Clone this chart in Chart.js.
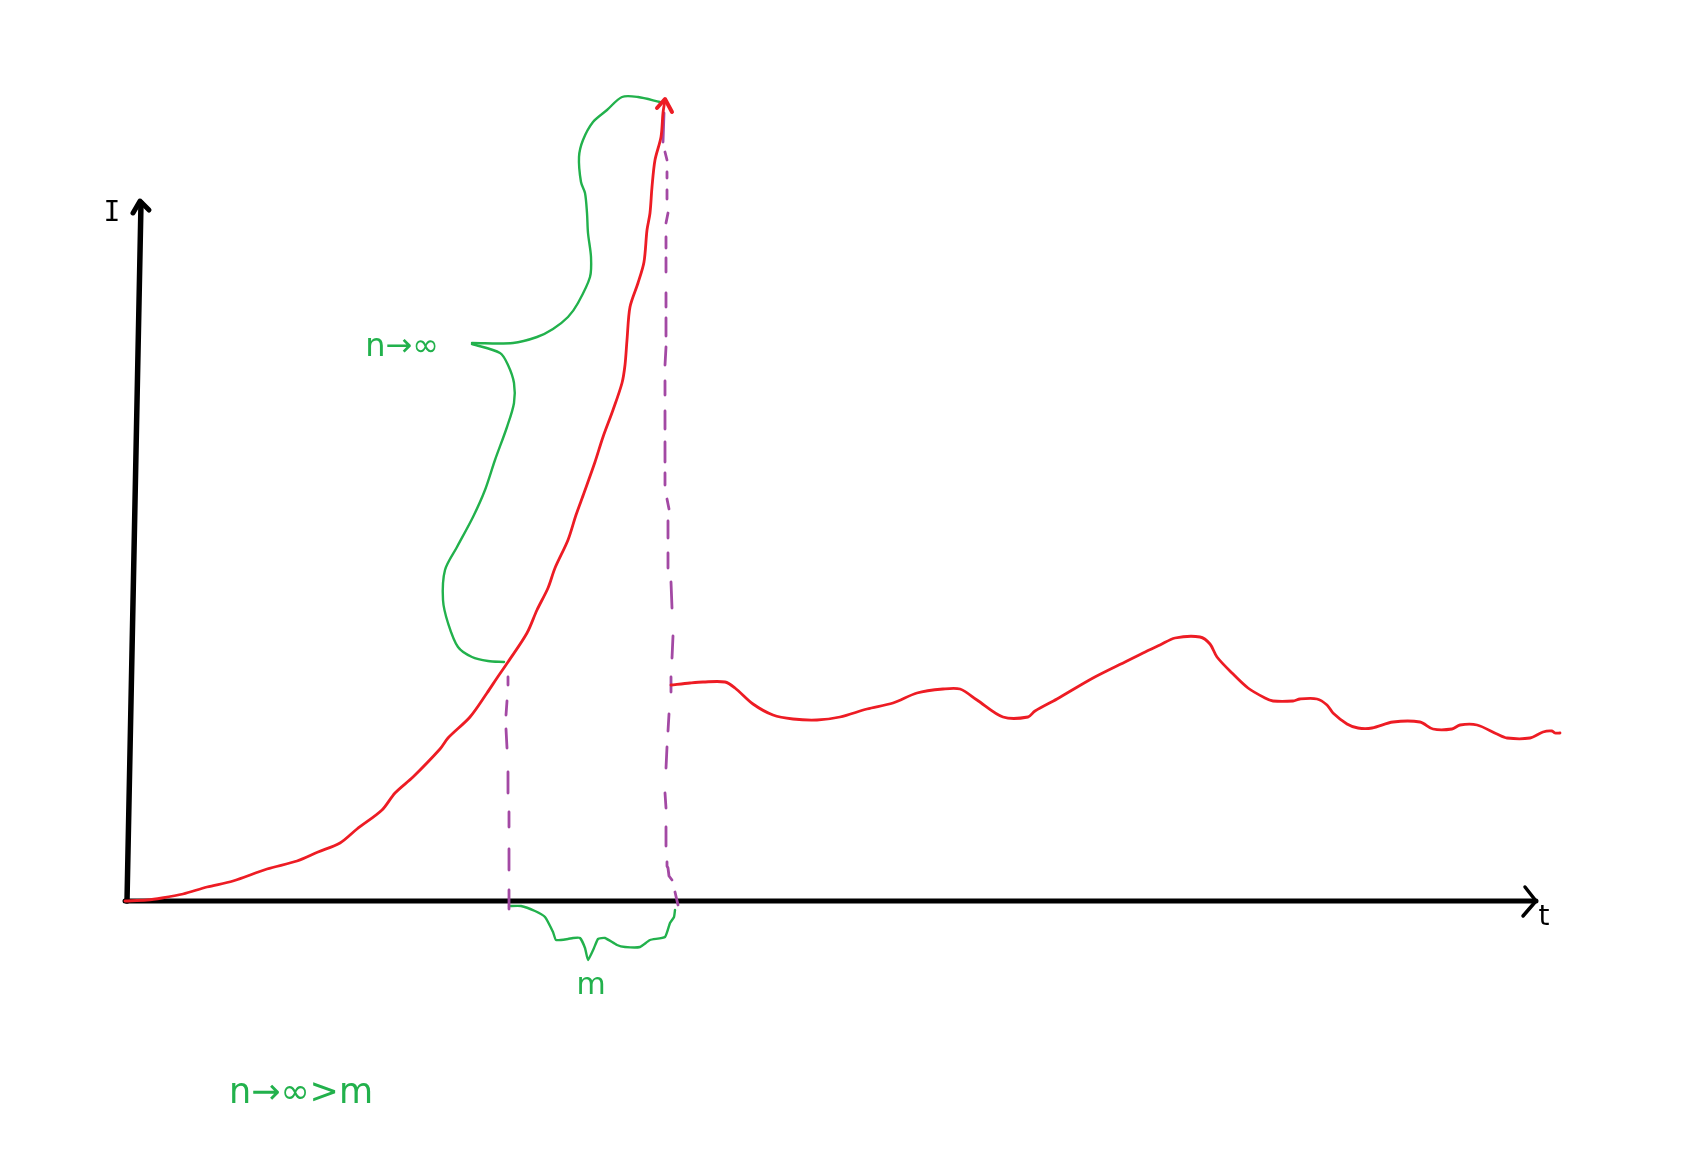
<!DOCTYPE html>
<html>
<head>
<meta charset="utf-8">
<title>I over t</title>
<script src="https://cdn.jsdelivr.net/npm/chart.js@4"></script>
<style>
  html, body { margin: 0; padding: 0; background: #fff; }
  canvas { display: block; }
</style>
</head>
<body>
<canvas id="chart" width="1703" height="1149"></canvas>
<script>
// all values are [t, I]
const riseCurve = [[-2,0],[20,1],[35,3],[56,7],[80,14],[106,20],[140,32],[170,40],[191,49],[213,58],[230,72],[255,91],[268,108],[286,124],[313,152],[321,163],[343,184],[360,208],[370,223],[381,239],[400,268],[410,291],[421,313],[428,333],[441,361],[449,386],[457,408],[468,439],[476,464],[486,491],[495,518],[498,536],[500,561],[503,594],[511,618],[517,639],[520,671],[523,688],[525,714],[528,741],[534,764],[536,788],[538,801]];
const riseArrow = [[530,793],[538,802],[545,789]];
const decayCurve = [[544,216],[563,218],[576,219],[598,219],[608,213],[626,197],[646,186],[666,182],[690,181],[713,184],[740,192],[766,198],[790,208],[816,212],[833,212],[850,201],[876,184],[901,184],[908,190],[930,202],[966,223],[1000,240],[1016,248],[1033,256],[1048,263],[1073,264],[1083,257],[1090,244],[1105,228],[1121,213],[1138,203],[1146,200],[1166,200],[1173,202],[1190,202],[1200,196],[1206,188],[1220,177],[1231,173],[1245,173],[1266,179],[1293,179],[1306,172],[1325,172],[1333,176],[1350,176],[1370,167],[1380,163],[1403,163],[1416,169],[1425,170],[1428,168],[1433,168]];

const leftDashes = [
  [[381,224],[381,216]], [[380,200],[379,186]], [[379,172],[380,153]], [[381,129],[381,108]],
  [[382,89],[382,74]], [[382,52],[382,31]], [[382,11],[382,-8]]
];
const rightDashes = [
  [[537,788],[536,759]], [[538,749],[540,741]], [[540,729],[540,723]], [[540,711],[540,702]],
  [[541,688],[539,678]], [[539,664],[539,653]], [[539,643],[539,629]], [[539,608],[539,594]],
  [[539,583],[539,565]], [[539,554],[538,536]], [[538,520],[538,506]], [[538,490],[538,472]],
  [[538,459],[538,439]], [[538,428],[538,416]], [[540,402],[542,392]], [[541,380],[541,363]],
  [[541,348],[541,333]], [[544,319],[545,293]], [[546,265],[545,243]], [[544,224],[544,209]],
  [[542,187],[541,170]], [[540,154],[539,133]], [[538,108],[539,93]], [[539,74],[539,55]],
  [[540,39],[540,35],[541,33],[542,25],[545,21]], [[548,9],[551,-4]]
];

const braceUpper = [[345,558],[386,558],[410,564],[426,572],[441,584],[451,598],[463,624],[464,644],[461,668],[460,688],[458,708],[454,719],[452,744],[456,761],[466,779],[480,791],[495,804],[511,804],[533,799]];
const braceLower = [[345,557],[373,548],[381,536],[387,518],[387,498],[380,474],[368,441],[358,411],[346,384],[330,354],[318,331],[316,301],[321,278],[331,254],[345,244],[361,240],[377,239]];
const braceBottom = [[382,-5],[394,-5],[408,-10],[418,-16],[426,-31],[429,-39],[441,-38],[446,-37],[453,-37],[458,-47],[461,-59],[467,-47],[471,-38],[478,-37],[490,-44],[498,-46],[513,-46],[523,-39],[538,-36],[543,-22],[547,-16],[548,-9]];

const axisT = [[-2,0],[1409,0]];
const axisTArrow = [[1398,14],[1409,0],[1396,-15]];
const axisI = [[0,0],[14,698]];
const axisIArrow = [[6,688],[13,700],[22,691]];

const RED = '#ed1c24';
const GREEN = '#22b14c';
const PURPLE = '#a349a4';
const BLACK = '#000000';

function toPoints(pairs) {
  return pairs.map((p) => ({ x: p[0], y: p[1] }));
}

// dashes are kept apart by an empty point, the line breaks there
function joinDashes(dashes) {
  const out = [];
  dashes.forEach((d) => {
    out.push(...toPoints(d));
    out.push({ x: null, y: null });
  });
  return out;
}

function line(data, color, width, tension) {
  return {
    data: data,
    showLine: true,
    borderColor: color,
    borderWidth: width,
    pointRadius: 0,
    fill: false,
    tension: tension || 0,
    borderCapStyle: 'round',
    borderJoinStyle: 'round',
  };
}

// the handwritten labels, placed in axis units
const handLabels = {
  id: 'handLabels',
  afterDraw(chart) {
    const ctx = chart.ctx;
    const sx = chart.scales.x;
    const sy = chart.scales.y;
    const put = (text, t, i, font, color) => {
      ctx.save();
      ctx.font = font;
      ctx.fillStyle = color;
      ctx.textAlign = 'center';
      ctx.textBaseline = 'middle';
      ctx.fillText(text, sx.getPixelForValue(t), sy.getPixelForValue(i));
      ctx.restore();
    };
    put('I', -15, 687, '28px "DejaVu Sans Mono"', BLACK);
    put('t', 1417, -17, '28px "DejaVu Sans"', BLACK);
    put('n→∞', 275, 553, '32px "DejaVu Sans"', GREEN);
    put('m', 464, -85, '30px "DejaVu Sans"', GREEN);
    put('n→∞>m', 174, -193, '35px "DejaVu Sans"', GREEN);
  },
};

new Chart(document.getElementById('chart'), {
  type: 'scatter',
  data: {
    datasets: [
      line(toPoints(riseArrow), RED, 4),
      line(toPoints(riseCurve), RED, 2.8, 0.3),
      line(toPoints(decayCurve), RED, 2.8, 0.3),
      line(joinDashes(leftDashes), PURPLE, 2.8),
      line(joinDashes(rightDashes), PURPLE, 2.8),
      line(toPoints(braceUpper), GREEN, 2.4, 0.3),
      line(toPoints(braceLower), GREEN, 2.4, 0.3),
      line(toPoints(braceBottom), GREEN, 2.4, 0.15),
      line(toPoints(axisT), BLACK, 5),
      line(toPoints(axisTArrow), BLACK, 3.5),
      line(toPoints(axisI), BLACK, 5.5),
      line(toPoints(axisIArrow), BLACK, 5),
    ],
  },
  options: {
    responsive: false,
    animation: false,
    layout: { padding: 0 },
    plugins: {
      legend: { display: false },
      tooltip: { enabled: false },
    },
    scales: {
      x: { type: 'linear', display: false, min: -127, max: 1576 },
      y: { type: 'linear', display: false, min: -248, max: 901 },
    },
  },
  plugins: [handLabels],
});
</script>
</body>
</html>
